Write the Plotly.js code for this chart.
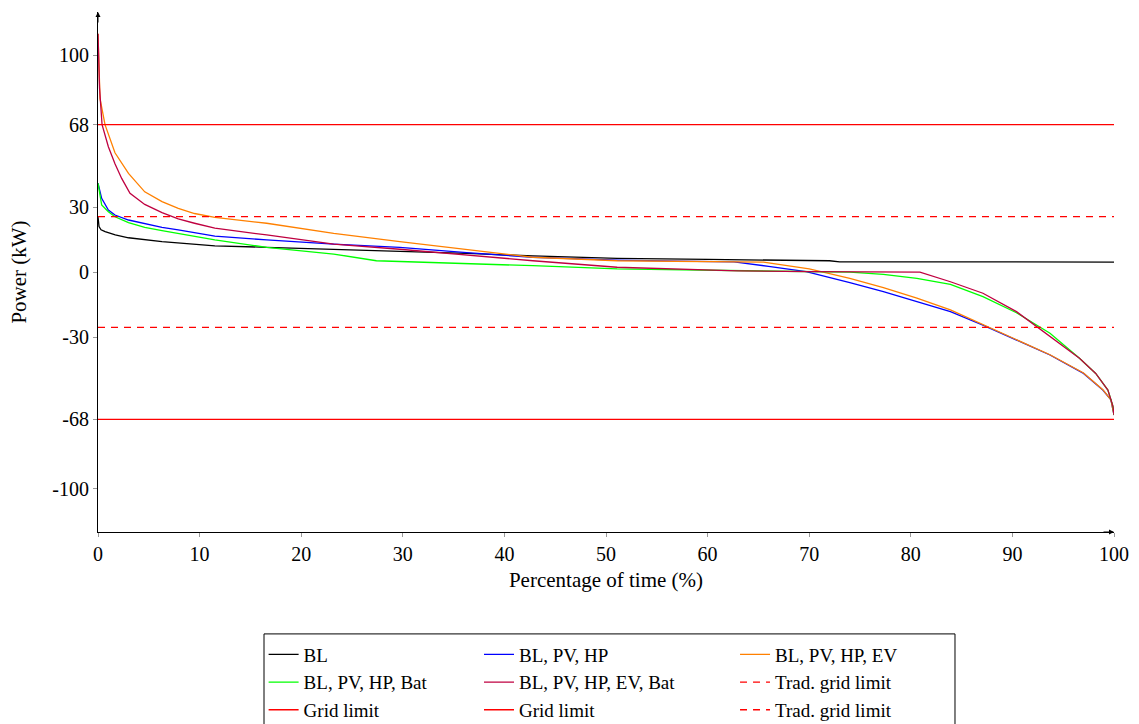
<!DOCTYPE html>
<html>
<head>
<meta charset="utf-8">
<script src="https://cdn.plot.ly/plotly-3.0.1.min.js"></script>
<style>html,body{margin:0;padding:0;background:#fff;}#chart{width:1139px;height:724px;}</style>
</head>
<body>
<div id="chart"></div>
<script>
// ---- data ----
const seriesNames = ["BL", "BL, PV, HP", "BL, PV, HP, EV", "BL, PV, HP, Bat", "BL, PV, HP, EV, Bat"];

const xBL = [0, 0.1, 0.3, 0.7, 1.7, 3, 6.3, 9.5, 11.5, 16.6, 23.2, 29.7, 36.3, 42.8, 51.1, 60, 70, 72, 73, 80, 90, 100];
const yBL = [25.5, 21, 19.5, 18.6, 17.1, 15.8, 14, 12.9, 12.1, 11.4, 10.5, 9.7, 8.6, 7.4, 6.3, 5.8, 5.4, 5.2, 4.7, 4.6, 4.6, 4.6];

const xPVHP = [0, 0.36, 1.02, 1.67, 3, 4.6, 6.3, 7.9, 9.5, 11.5, 16.6, 23.2, 29.7, 36.3, 42.8, 51.1, 57, 62.6, 66, 69.7, 74, 77.3, 80.6, 83.9, 87.1, 90.4, 93.7, 97, 98.9, 99.7, 100];
const yPVHP = [41, 34, 28.6, 26.3, 24, 22.2, 20.6, 19.4, 18.1, 16.6, 14.8, 12.9, 11.4, 8.9, 6.8, 5.5, 5.0, 4.7, 2.6, 0.2, -4.9, -9.1, -13.7, -18.3, -24.5, -31.4, -38.3, -46.8, -54.5, -59, -66];

const xPVHPEV = [0, 0.2, 0.69, 1.67, 3, 4.6, 6.3, 7.9, 9.5, 11.5, 16.6, 23.2, 29.7, 36.3, 42.8, 51.1, 60, 65.5, 70, 74, 77.3, 80.6, 83.9, 87.1, 90.4, 93.7, 97, 98.9, 99.7, 100];
const yPVHPEV = [110, 80, 68, 55, 45.5, 37, 32.5, 29.4, 27, 25.2, 22.5, 17.8, 14, 10.2, 6.8, 5.2, 4.9, 4.6, 1.4, -2.9, -7.2, -12.1, -17.5, -24.2, -31.2, -38.2, -46.6, -54.3, -59, -66];

const xPVHPBat = [0, 0.36, 1.02, 1.67, 3, 4.6, 6.3, 7.9, 9.5, 11.5, 16.6, 23.2, 27.4, 36.3, 42.8, 51.1, 60, 70, 74, 77.3, 80.6, 83.9, 87.1, 90.4, 93.7, 96.6, 98.2, 99.4, 99.9, 100];
const yPVHPBat = [41, 31, 27.8, 25.5, 22.8, 20.6, 19.1, 17.8, 16.3, 14.8, 11.4, 8.3, 5.2, 4, 2.9, 1.4, 0.8, 0.2, -0.1, -1.1, -2.9, -5.7, -11.4, -18.8, -28.3, -39.8, -46.8, -54.5, -62, -66];

const xPVHPEVBat = [0, 0.15, 0.4, 1.02, 1.67, 2.33, 3.15, 4.6, 6.3, 7.9, 9.5, 11.5, 16.6, 23.2, 29.7, 36.3, 42.8, 51.1, 57, 63, 70, 75, 80.9, 83.9, 87.1, 90.4, 93.7, 96.6, 98.2, 99.4, 99.9, 100];
const yPVHPEVBat = [110, 85, 68, 57.8, 50, 43.2, 36.3, 31.2, 27.4, 24.5, 22.5, 20.2, 17.1, 12.9, 10.5, 7.8, 5.2, 2.2, 1.2, 0.5, 0.2, 0, -0.1, -4.5, -9.8, -18.3, -29.8, -39.8, -46.8, -54.5, -62, -66];

const limitX = [0, 100];
const gridLimit = 68;
const tradGridLimit = 25.6;

const yTicks = [-100, -68, -30, 0, 30, 68, 100];
const xTicks = [0, 10, 20, 30, 40, 50, 60, 70, 80, 90, 100];

// ---- styling ----
const FONT = '"Liberation Serif", "DejaVu Serif", serif';
const FS = 20;
const lw = 1.3;

function line(x, y, name, color, legend, dash) {
  return {x: x, y: y, name: name, type: "scatter", mode: "lines",
          line: {color: color, width: lw, dash: dash || "solid"},
          legend: legend, hoverinfo: "skip"};
}

const traces = [
  line(xBL, yBL, seriesNames[0], "#000000", "legend"),
  line(xPVHP, yPVHP, seriesNames[1], "#0000ff", "legend2"),
  line(xPVHPEV, yPVHPEV, seriesNames[2], "#ff8000", "legend3"),
  line(xPVHPBat, yPVHPBat, seriesNames[3], "#00ff00", "legend"),
  line(xPVHPEVBat, yPVHPEVBat, seriesNames[4], "#bf0040", "legend2"),
  line(limitX, limitX.map(() => tradGridLimit), "Trad. grid limit", "#ff0000", "legend3", "7px,6px"),
  line(limitX, limitX.map(() => gridLimit), "Grid limit", "#ff0000", "legend"),
  line(limitX, limitX.map(() => -gridLimit), "Grid limit", "#ff0000", "legend2"),
  line(limitX, limitX.map(() => -tradGridLimit), "Trad. grid limit", "#ff0000", "legend3", "7px,6px")
];

const legBase = {orientation: "v", bgcolor: "rgba(0,0,0,0)", borderwidth: 0,
  font: {family: FONT, size: 19, color: "#000"}, xanchor: "left", yanchor: "top",
  y: -0.199, tracegroupgap: 0};

const layout = {
  width: 1139, height: 724,
  margin: {l: 98, r: 25, t: 12, b: 192, autoexpand: false},
  paper_bgcolor: "#fff", plot_bgcolor: "#fff",
  font: {family: FONT, size: FS, color: "#000"},
  showlegend: true,
  xaxis: {
    range: [0, 100], tickvals: xTicks, ticktext: xTicks.map(String),
    showgrid: false, zeroline: false, showline: true, linecolor: "#000", linewidth: 1,
    ticks: "outside", ticklen: 4, tickcolor: "#999", tickwidth: 1,
    tickfont: {family: FONT, size: FS},
    title: {text: "Percentage of time (%)", font: {family: FONT, size: 21}, standoff: 8}
  },
  yaxis: {
    range: [-120, 120], tickvals: yTicks, ticktext: yTicks.map(String),
    showgrid: false, zeroline: false, showline: true, linecolor: "#000", linewidth: 1,
    ticks: "outside", ticklen: 4, tickcolor: "#999", tickwidth: 1,
    tickfont: {family: FONT, size: FS},
    title: {text: "Power (kW)", font: {family: FONT, size: 21}, standoff: 19}
  },
  legend: Object.assign({}, legBase, {x: 0.163}),
  legend2: Object.assign({}, legBase, {x: 0.375}),
  legend3: Object.assign({}, legBase, {x: 0.627}),
  shapes: [
    {type: "rect", xref: "paper", yref: "paper", x0: 0.1634, x1: 0.8435, y0: -0.196, y1: -0.40,
     line: {color: "#000", width: 1}, fillcolor: "rgba(0,0,0,0)"}
  ],
  annotations: [
    {x: 100, y: -120, xref: "x", yref: "y", text: "", showarrow: true, ax: -12, ay: 0,
     arrowhead: 2, arrowsize: 1, arrowwidth: 1, arrowcolor: "#000"},
    {x: 0, y: 120, xref: "x", yref: "y", text: "", showarrow: true, ax: 0, ay: 12,
     arrowhead: 2, arrowsize: 1, arrowwidth: 1, arrowcolor: "#000"}
  ]
};

Plotly.newPlot("chart", traces, layout, {displayModeBar: false, staticPlot: true});
</script>
</body>
</html>
